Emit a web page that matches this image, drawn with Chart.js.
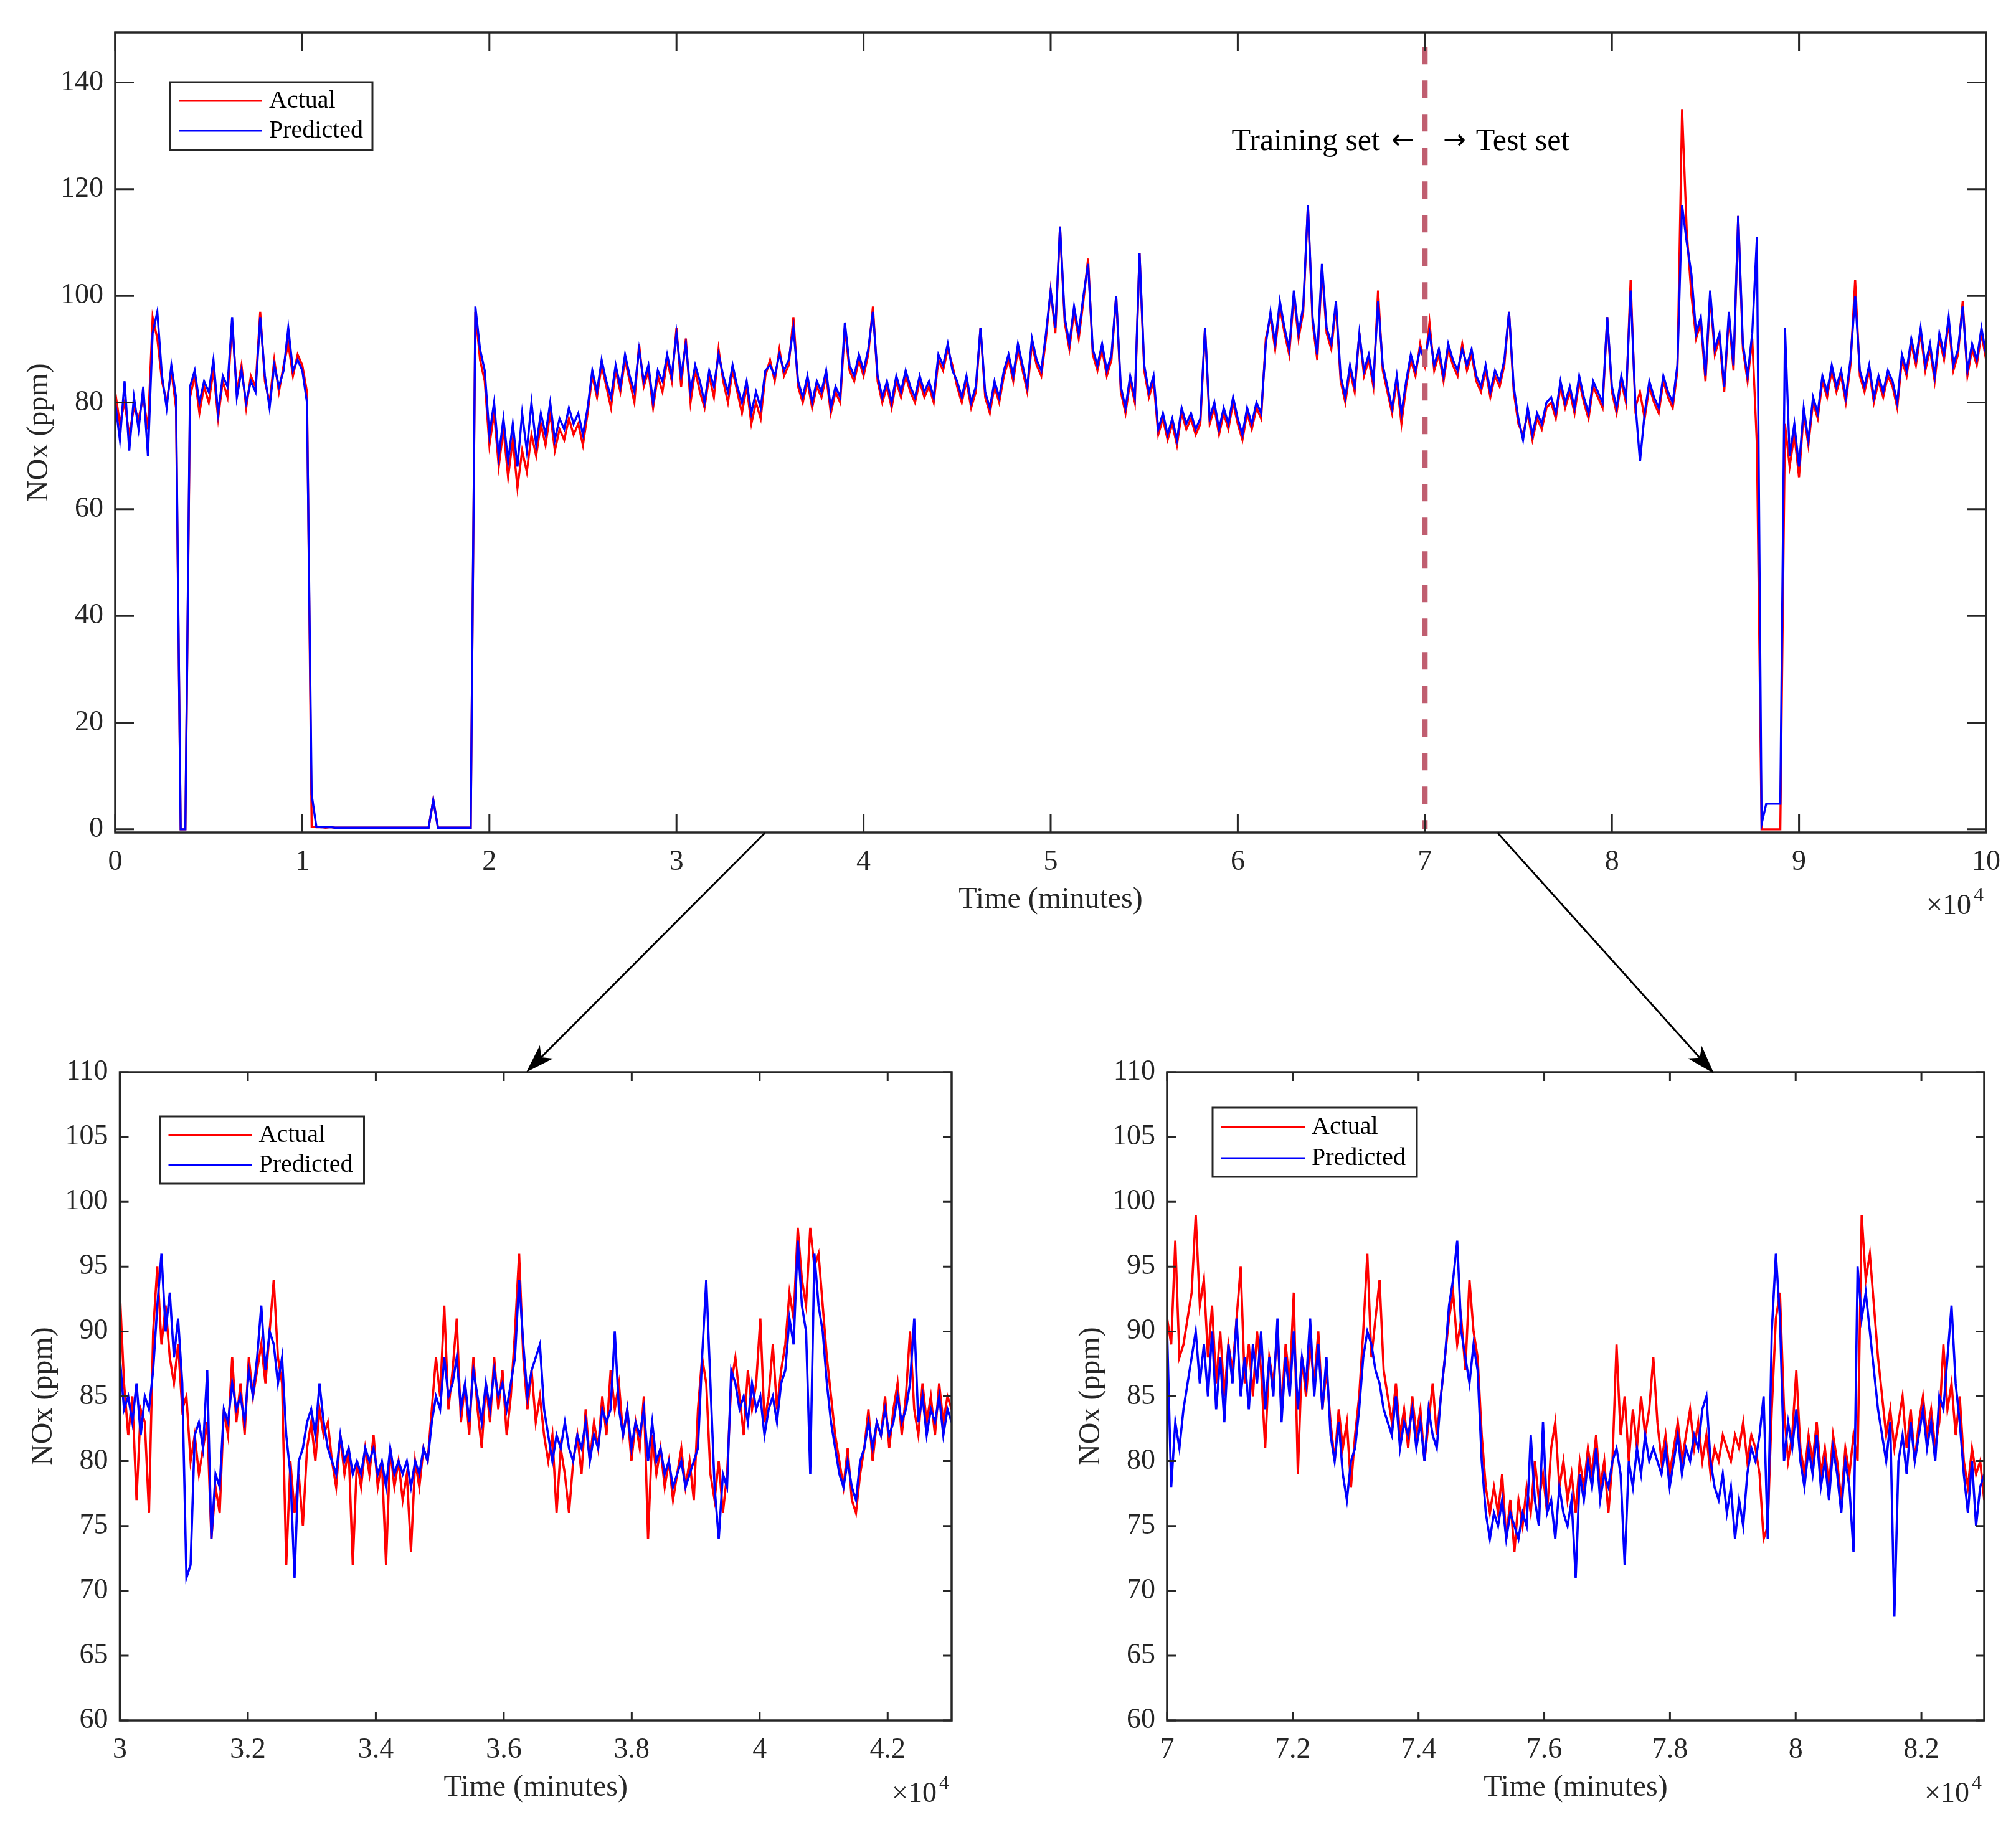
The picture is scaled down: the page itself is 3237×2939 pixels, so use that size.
<!DOCTYPE html>
<html lang="en">
<head>
<meta charset="UTF-8">
<title>NOx actual vs predicted</title>
<script src="https://cdn.jsdelivr.net/npm/chart.js"></script>
<style>
  html, body { margin: 0; padding: 0; background: #fff; }
  #wrap { position: relative; width: 3237px; height: 2939px; background: #fff; }
  canvas, svg { position: absolute; }
</style>
</head>
<body>
<div id="wrap">
  <canvas id="topChart" width="3237" height="1500" style="left:0;top:0;width:3237px;height:1500px"></canvas>
  <canvas id="leftChart" width="1618" height="1289" style="left:0;top:1650px;width:1618px;height:1289px"></canvas>
  <canvas id="rightChart" width="1619" height="1289" style="left:1618px;top:1650px;width:1619px;height:1289px"></canvas>
  <svg id="arrows" width="3237" height="2939" style="left:0;top:0"></svg>
</div>
<script>
const FONT = '"Liberation Serif", "Times New Roman", serif';
const ARROW_FONT = '"DejaVu Sans", sans-serif';
const INK = '#262626';

// full record, one sample every 250 minutes
const topStart = 0, topStep = 250;
const actualTop = [
  82, 76, 80, 74, 79, 77, 81, 75, 96, 92,
  84, 80, 86, 79, 0, 0, 81, 85, 78, 83,
  80, 86, 77, 84, 81, 95, 82, 87, 79, 85,
  83, 97, 84, 80, 88, 82, 87, 91, 85, 89,
  87, 82, 0.5, 0.4, 0.4, 0.3, 0.4, 0.3, 0.3, 0.3,
  0.3, 0.3, 0.3, 0.3, 0.3, 0.3, 0.3, 0.3, 0.3, 0.3,
  0.3, 0.3, 0.3, 0.3, 0.3, 0.3, 0.3, 0.3, 5.5, 0.3,
  0.3, 0.3, 0.3, 0.3, 0.3, 0.3, 0.3, 97, 88, 84,
  72, 78, 68, 75, 66, 73, 64, 71, 67, 74,
  70, 76, 72, 78, 71, 75, 73, 77, 74, 76,
  72, 78, 85, 81, 87, 83, 79, 86, 82, 88,
  84, 80, 91, 83, 86, 79, 85, 82, 88, 84,
  94, 83, 92, 80, 86, 82, 79, 85, 81, 90,
  84, 80, 86, 82, 78, 83, 76, 80, 77, 85,
  88, 84, 90, 85, 87, 96, 83, 80, 84, 79,
  83, 81, 85, 78, 82, 80, 94, 86, 84, 88,
  85, 89, 98, 84, 80, 83, 79, 84, 81, 85,
  82, 80, 84, 81, 83, 80, 88, 86, 90, 87,
  83, 80, 84, 79, 82, 94, 81, 78, 83, 80,
  85, 88, 84, 90, 86, 82, 91, 87, 85, 92,
  101, 93, 113, 95, 90, 97, 92, 99, 107, 89,
  86, 90, 85, 88, 100, 82, 78, 84, 80, 108,
  86, 81, 84, 74, 77, 73, 76, 72, 78, 75,
  77, 74, 76, 94, 76, 79, 74, 78, 75, 80,
  76, 73, 78, 75, 79, 77, 92, 96, 90, 98,
  93, 89, 100, 92, 97, 117, 95, 88, 105, 93,
  90, 98, 84, 80, 86, 82, 93, 85, 88, 83,
  101, 86, 82, 78, 84, 76, 83, 88, 85, 91,
  87, 95, 86, 89, 84, 90, 87, 85, 91, 86,
  89, 84, 82, 86, 81, 85, 83, 87, 97, 82,
  76, 74, 78, 73, 77, 75, 79, 80, 77, 83,
  79, 82, 78, 84, 80, 77, 83, 81, 79, 96,
  82, 78, 84, 80, 103, 79, 82, 77, 83, 80,
  78, 84, 81, 79, 86, 135, 112, 100, 92, 95,
  84, 100, 89, 92, 82, 96, 86, 115, 90, 84,
  92, 72, 0, 0, 0, 0, 0, 76, 68, 74,
  66, 78, 72, 80, 77, 84, 81, 86, 82, 85,
  80, 87, 103, 85, 82, 86, 80, 84, 81, 85,
  83, 79, 88, 85, 91, 87, 93, 86, 90, 84,
  92, 88, 95, 86, 89, 99, 85, 90, 87, 93,
  88
];
const predictedTop = [
  80, 73, 84, 71, 81, 75, 83, 70, 93, 97,
  85, 79, 87, 81, 0, 0, 83, 86, 80, 84,
  82, 88, 78, 85, 83, 96, 81, 86, 80, 84,
  82, 96, 85, 79, 87, 83, 86, 94, 86, 88,
  86, 80, 6.5, 0.5, 0.4, 0.4, 0.4, 0.3, 0.3, 0.3,
  0.3, 0.3, 0.3, 0.3, 0.3, 0.3, 0.3, 0.3, 0.3, 0.3,
  0.3, 0.3, 0.3, 0.3, 0.3, 0.3, 0.3, 0.3, 5.5, 0.3,
  0.3, 0.3, 0.3, 0.3, 0.3, 0.3, 0.3, 98, 90, 86,
  74, 80, 70, 77, 69, 76, 68, 78, 71, 80,
  72, 78, 74, 80, 73, 77, 75, 79, 76, 78,
  74, 79, 86, 82, 88, 84, 81, 87, 83, 89,
  85, 82, 90, 84, 87, 80, 86, 84, 89, 85,
  93, 85, 91, 82, 87, 84, 80, 86, 83, 89,
  85, 82, 87, 83, 80, 84, 78, 82, 79, 86,
  87, 85, 89, 86, 88, 94, 84, 81, 85, 80,
  84, 82, 86, 79, 83, 81, 95, 87, 85, 89,
  86, 90, 97, 85, 81, 84, 80, 85, 82, 86,
  83, 81, 85, 82, 84, 81, 89, 87, 91, 86,
  84, 81, 85, 80, 83, 94, 82, 79, 84, 81,
  86, 89, 85, 91, 87, 83, 92, 88, 86, 93,
  101, 94, 113, 96, 91, 98, 93, 100, 106, 90,
  87, 91, 86, 89, 100, 83, 79, 85, 81, 108,
  87, 82, 85, 75, 78, 74, 77, 73, 79, 76,
  78, 75, 77, 94, 77, 80, 75, 79, 76, 81,
  77, 74, 79, 76, 80, 78, 91, 97, 91, 99,
  94, 90, 101, 93, 98, 117, 96, 89, 106, 94,
  91, 99, 85, 81, 87, 83, 93, 86, 89, 84,
  99, 87, 83, 79, 85, 78, 84, 89, 86, 90,
  88, 93, 87, 90, 85, 91, 88, 86, 90, 87,
  90, 85, 83, 87, 82, 86, 84, 88, 97, 83,
  77, 73, 79, 74, 78, 76, 80, 81, 78, 84,
  80, 83, 79, 85, 81, 78, 84, 82, 80, 96,
  83, 79, 85, 81, 101, 80, 69, 78, 84, 81,
  79, 85, 82, 80, 87, 117, 110, 104, 93, 96,
  85, 101, 90, 93, 83, 97, 87, 115, 91, 85,
  93, 111, 1, 4.8, 4.8, 4.8, 4.8, 94, 70, 76,
  68, 79, 73, 81, 78, 85, 82, 87, 83, 86,
  81, 88, 100, 86, 83, 87, 81, 85, 82, 86,
  84, 80, 89, 86, 92, 88, 94, 87, 91, 85,
  93, 89, 96, 87, 90, 98, 86, 91, 88, 94,
  89
];

// zoomed windows, one sample every 65 minutes
const zoomStep = 65;
const leftStart = 30000;
const actualLeft = [
  93, 86, 82, 85, 77, 84, 83, 76, 90, 95,
  89, 92, 88, 86, 89, 84, 85, 80, 82, 79,
  81, 83, 74, 78, 76, 84, 82, 88, 83, 86,
  82, 88, 85, 87, 89, 86, 90, 94, 88, 86,
  72, 80, 76, 79, 75, 81, 83, 80, 84, 82,
  83, 80, 78, 82, 79, 81, 72, 80, 78, 81,
  79, 82, 78, 80, 72, 81, 78, 80, 77, 79,
  73, 80, 78, 81, 80, 84, 88, 85, 92, 84,
  87, 91, 83, 86, 82, 88, 84, 81, 86, 83,
  88, 84, 87, 82, 85, 90, 96, 88, 84, 87,
  83, 85, 82, 80, 82, 76, 81, 79, 76, 80,
  82, 79, 84, 80, 83, 81, 85, 82, 87, 84,
  86, 82, 84, 80, 83, 81, 85, 74, 82, 79,
  81, 78, 80, 77, 79, 81, 78, 80, 77, 84,
  88, 86, 79, 77, 80, 76, 79, 86, 88, 85,
  82, 87, 84, 86, 91, 83, 85, 89, 84, 87,
  89, 93, 91, 98, 94, 92, 98, 95, 96, 92,
  88, 85, 82, 80, 78, 81, 77, 76, 79, 81,
  84, 80, 83, 82, 85, 81, 84, 86, 82, 85,
  90, 84, 82, 86, 83, 85, 82, 86, 83, 85,
  84
];
const predictedLeft = [
  88, 84, 85, 83, 86, 82, 85, 84, 87, 92,
  96, 90, 93, 88, 91, 86, 71, 72, 82, 83,
  81, 87, 74, 79, 78, 84, 83, 86, 84, 85,
  83, 87, 85, 88, 92, 87, 90, 89, 86, 88,
  82, 79, 71, 80, 81, 83, 84, 82, 86, 83,
  81, 80, 79, 82, 80, 81, 79, 80, 79, 81,
  80, 81, 79, 80, 78, 81, 79, 80, 79, 80,
  78, 80, 79, 81, 80, 83, 85, 84, 88, 85,
  86, 88, 84, 86, 83, 87, 85, 83, 86, 84,
  87, 85, 86, 84, 86, 88, 94, 89, 85, 87,
  88, 89, 84, 82, 80, 82, 81, 83, 81, 80,
  82, 81, 83, 80, 82, 81, 84, 83, 84, 90,
  84, 82, 84, 81, 83, 82, 84, 80, 83, 80,
  81, 79, 80, 78, 79, 80, 78, 79, 80, 81,
  88, 94, 86, 78, 74, 79, 78, 87, 86, 84,
  85, 83, 86, 84, 85, 82, 84, 85, 83, 86,
  87, 91, 89, 97, 92, 90, 79, 96, 92, 90,
  86, 83, 81, 79, 78, 80, 78, 77, 80, 81,
  83, 81, 83, 82, 84, 82, 83, 85, 83, 84,
  86, 91, 83, 85, 82, 84, 83, 85, 82, 84,
  83
];
const rightStart = 70000;
const actualRight = [
  91, 89, 97, 88, 89, 91, 93, 99, 92, 94,
  88, 92, 86, 90, 85, 89, 87, 91, 95, 86,
  89, 85, 90, 87, 81, 88, 86, 90, 84, 89,
  86, 93, 79, 88, 85, 89, 86, 90, 84, 87,
  83, 80, 84, 81, 83, 78, 82, 85, 90, 96,
  88, 91, 94, 87, 85, 83, 86, 82, 84, 81,
  85, 82, 84, 80, 83, 86, 82, 85, 88, 91,
  93, 89, 91, 87, 94, 90, 88, 82, 78, 76,
  78, 76, 79, 74, 77, 73, 77, 75, 78, 76,
  80, 77, 79, 76, 81, 83, 78, 80, 77, 79,
  76, 80, 78, 81, 79, 82, 78, 80, 76, 80,
  89, 82, 85, 80, 84, 81, 85, 82, 84, 88,
  83, 80, 82, 79, 81, 83, 80, 82, 84, 81,
  83, 80, 82, 79, 81, 80, 82, 81, 80, 82,
  81, 83, 80, 82, 81, 79, 74, 75, 84, 91,
  93, 84, 80, 82, 87, 81, 79, 82, 80, 83,
  79, 81, 78, 82, 80, 77, 81, 79, 82, 80,
  99, 94, 96, 92, 88, 85, 82, 84, 81, 83,
  85, 81, 84, 80, 83, 85, 82, 84, 81, 83,
  89, 84, 86, 82, 85, 80, 78, 81, 79, 80,
  77
];
const predictedRight = [
  90, 78, 83, 81, 84, 86, 88, 90, 86, 89,
  85, 90, 84, 88, 83, 89, 86, 91, 85, 88,
  84, 89, 86, 90, 84, 88, 85, 91, 83, 88,
  85, 90, 84, 88, 86, 91, 85, 89, 84, 88,
  82, 80, 83, 79, 77, 80, 81, 84, 88, 90,
  89, 87, 86, 84, 83, 82, 85, 81, 83, 82,
  84, 81, 83, 80, 84, 82, 81, 85, 88, 92,
  94, 97, 90, 88, 86, 89, 87, 80, 76, 74,
  76, 75, 77, 74, 76, 75, 74, 76, 75, 82,
  77, 75, 83, 76, 77, 74, 78, 76, 75, 77,
  71, 79, 77, 80, 78, 81, 77, 79, 78, 80,
  81, 79, 72, 80, 78, 81, 79, 82, 80, 81,
  80, 79, 81, 78, 80, 82, 79, 81, 80, 82,
  81, 84, 85, 80, 78, 77, 79, 76, 78, 74,
  77, 75, 79, 81, 80, 82, 85, 74, 90, 96,
  91, 80, 83, 81, 84, 80, 78, 81, 79, 82,
  78, 80, 77, 81, 79, 76, 80, 78, 73, 95,
  91, 93, 90, 87, 84, 82, 80, 83, 68, 80,
  82, 79, 83, 80, 82, 84, 81, 83, 80, 85,
  84, 88, 92, 86, 83, 79, 76, 80, 75, 78,
  79
];

const topXTicks = [0, 10000, 20000, 30000, 40000, 50000, 60000, 70000, 80000, 90000, 100000];
const topYTicks = [0, 20, 40, 60, 80, 100, 120, 140];
const leftXTicks = [30000, 32000, 34000, 36000, 38000, 40000, 42000];
const rightXTicks = [70000, 72000, 74000, 76000, 78000, 80000, 82000];
const zoomYTicks = [60, 65, 70, 75, 80, 85, 90, 95, 100, 105, 110];

const splitTime = 70000;      // training / test boundary
const splitTop = 146.7;

function toPoints(start, step, values) {
  return values.map((v, i) => ({ x: start + i * step, y: v }));
}

function framePlugin(o) {
  return {
    id: 'frame',
    afterDatasetsDraw(chart) {
      const ctx = chart.ctx;
      const a = chart.chartArea;
      const xs = chart.scales.x, ys = chart.scales.y;
      ctx.save();
      // axes box
      ctx.strokeStyle = INK;
      ctx.lineWidth = 3.5;
      ctx.strokeRect(a.left, a.top, a.right - a.left, a.bottom - a.top);
      // inward ticks on all four sides
      ctx.lineWidth = 3;
      ctx.beginPath();
      xs.ticks.forEach(t => {
        const px = xs.getPixelForValue(t.value);
        ctx.moveTo(px, a.bottom); ctx.lineTo(px, a.bottom - o.tickLen);
        ctx.moveTo(px, a.top); ctx.lineTo(px, a.top + o.tickLen);
      });
      ys.ticks.forEach(t => {
        const py = ys.getPixelForValue(t.value);
        ctx.moveTo(a.left, py); ctx.lineTo(a.left + o.tickLen, py);
        ctx.moveTo(a.right, py); ctx.lineTo(a.right - o.tickLen, py);
      });
      ctx.stroke();

      // x10^4 exponent
      ctx.fillStyle = INK;
      ctx.textBaseline = 'alphabetic';
      ctx.font = '46px ' + FONT;
      ctx.textAlign = 'right';
      ctx.fillText('\u00d710', a.right - 24, a.bottom + 131);
      ctx.font = '32px ' + FONT;
      ctx.textAlign = 'left';
      ctx.fillText('4', a.right - 20, a.bottom + 110);

      // legend
      const L = o.legend;
      const bx = a.left + L.dx, by = a.top + L.dy;
      ctx.fillStyle = '#fff';
      ctx.fillRect(bx, by, L.w, L.h);
      ctx.strokeStyle = INK;
      ctx.lineWidth = 3;
      ctx.strokeRect(bx, by, L.w, L.h);
      const rows = [['Actual', '#ff0000', L.r1], ['Predicted', '#0000ff', L.r2]];
      ctx.font = '40px ' + FONT;
      ctx.textBaseline = 'middle';
      ctx.textAlign = 'left';
      rows.forEach(([txt, col, ry]) => {
        ctx.strokeStyle = col;
        ctx.lineWidth = 3;
        ctx.beginPath();
        ctx.moveTo(bx + 14, by + ry);
        ctx.lineTo(bx + 148, by + ry);
        ctx.stroke();
        ctx.fillStyle = '#000';
        ctx.fillText(txt, bx + 159, by + ry);
      });

      // training / test annotation
      if (o.split) {
        const sx = xs.getPixelForValue(splitTime);
        const base = 241;
        ctx.fillStyle = '#000';
        ctx.textBaseline = 'alphabetic';
        // left part: "Training set ←"
        ctx.font = '44px ' + ARROW_FONT;
        ctx.textAlign = 'right';
        ctx.fillText('\u2190', sx - 17, base - 2);
        const wl = ctx.measureText('\u2190').width;
        ctx.font = '50px ' + FONT;
        ctx.fillText('Training set', sx - 17 - wl - 18, base);
        // right part: "→ Test set"
        ctx.font = '44px ' + ARROW_FONT;
        ctx.textAlign = 'left';
        ctx.fillText('\u2192', sx + 29, base - 2);
        const wr = ctx.measureText('\u2192').width;
        ctx.font = '50px ' + FONT;
        ctx.fillText('Test set', sx + 29 + wr + 16, base);
      }
      ctx.restore();
    }
  };
}

function makeChart(id, c) {
  const datasets = [
    { label: 'Actual', data: toPoints(c.start, c.step, c.actual), borderColor: '#ff0000',
      borderWidth: c.lineW, pointRadius: 0, order: 2 },
    { label: 'Predicted', data: toPoints(c.start, c.step, c.predicted), borderColor: '#0000ff',
      borderWidth: c.lineW, pointRadius: 0, order: 1 }
  ];
  if (c.split) {
    datasets.push({ label: 'split', data: [{ x: splitTime, y: splitTop }, { x: splitTime, y: 0 }],
      borderColor: 'rgb(192,94,112)', borderWidth: 9, borderDash: [28, 26], borderCapStyle: 'butt',
      pointRadius: 0, order: 0 });
  }
  return new Chart(document.getElementById(id), {
    type: 'line',
    data: { datasets },
    options: {
      responsive: false,
      animation: false,
      devicePixelRatio: 1,
      events: [],
      layout: { padding: { left: 0, top: c.padTop, right: c.padRight, bottom: c.padBottom } },
      plugins: { legend: { display: false }, tooltip: { enabled: false } },
      scales: {
        x: {
          type: 'linear', min: c.xMin, max: c.xMax,
          afterBuildTicks: s => { s.ticks = c.xTicks.map(v => ({ value: v })); },
          afterFit: s => { s.height = 150; },
          grid: { display: false, drawTicks: false },
          border: { display: false },
          ticks: { autoSkip: false, maxRotation: 0, padding: 20, color: INK,
            font: { family: FONT, size: 46 },
            callback: v => String(+(v / 1e4).toFixed(1)) },
          title: { display: true, text: 'Time (minutes)', color: INK,
            font: { family: FONT, size: 48 }, padding: { top: 0, bottom: 13 } }
        },
        y: {
          type: 'linear', min: c.yMin, max: c.yMax,
          afterBuildTicks: s => { s.ticks = c.yTicks.map(v => ({ value: v })); },
          afterFit: s => { s.width = c.yAxisW; },
          grid: { display: false, drawTicks: false },
          border: { display: false },
          ticks: { autoSkip: false, padding: 19, color: INK, font: { family: FONT, size: 46 } },
          title: { display: true, text: 'NOx (ppm)', color: INK,
            font: { family: FONT, size: 48 }, padding: { top: c.yTitlePad, bottom: 0 } }
        }
      }
    },
    plugins: [framePlugin({ tickLen: c.tickLen, legend: c.legend, split: c.split })]
  });
}

makeChart('topChart', {
  actual: actualTop, predicted: predictedTop, start: topStart, step: topStep, lineW: 3.4,
  xMin: 0, xMax: 100000, xTicks: topXTicks, yMin: -0.6, yMax: 149.4, yTicks: topYTicks,
  padTop: 52, padRight: 48, padBottom: 13, yAxisW: 185, yTitlePad: 35, tickLen: 30,
  legend: { dx: 88, dy: 80, w: 325, h: 109, r1: 30, r2: 78 }, split: true
});
makeChart('leftChart', {
  actual: actualLeft, predicted: predictedLeft, start: leftStart, step: zoomStep, lineW: 3.6,
  xMin: 30000, xMax: 43000, xTicks: leftXTicks, yMin: 60, yMax: 110, yTicks: zoomYTicks,
  padTop: 72, padRight: 90, padBottom: 26, yAxisW: 192.5, yTitlePad: 42, tickLen: 14,
  legend: { dx: 64, dy: 71, w: 328, h: 108, r1: 30, r2: 78 }, split: false
});
makeChart('rightChart', {
  actual: actualRight, predicted: predictedRight, start: rightStart, step: zoomStep, lineW: 3.6,
  xMin: 70000, xMax: 83000, xTicks: rightXTicks, yMin: 60, yMax: 110, yTicks: zoomYTicks,
  padTop: 72, padRight: 51, padBottom: 26, yAxisW: 256, yTitlePad: 106, tickLen: 14,
  legend: { dx: 73, dy: 57, w: 328, h: 111, r1: 31, r2: 81 }, split: false
});

// zoom arrows from the overview to the two detail panels
const arrowLines = [[1228, 1338, 845, 1722], [2405, 1338, 2752, 1724]];
const svg = document.getElementById('arrows');
const NS = 'http://www.w3.org/2000/svg';
arrowLines.forEach(([x1, y1, x2, y2]) => {
  const len = Math.hypot(x2 - x1, y2 - y1);
  const dx = (x2 - x1) / len, dy = (y2 - y1) / len;
  const nx = -dy, ny = dx;
  const line = document.createElementNS(NS, 'line');
  line.setAttribute('x1', x1); line.setAttribute('y1', y1);
  line.setAttribute('x2', x2 - 30 * dx); line.setAttribute('y2', y2 - 30 * dy);
  line.setAttribute('stroke', '#000'); line.setAttribute('stroke-width', 3);
  svg.appendChild(line);
  const pts = [
    [x2, y2],
    [x2 - 46 * dx + 15 * nx, y2 - 46 * dy + 15 * ny],
    [x2 - 34 * dx, y2 - 34 * dy],
    [x2 - 46 * dx - 15 * nx, y2 - 46 * dy - 15 * ny]
  ];
  const head = document.createElementNS(NS, 'polygon');
  head.setAttribute('points', pts.map(p => p.join(',')).join(' '));
  head.setAttribute('fill', '#000');
  svg.appendChild(head);
});
</script>
</body>
</html>
